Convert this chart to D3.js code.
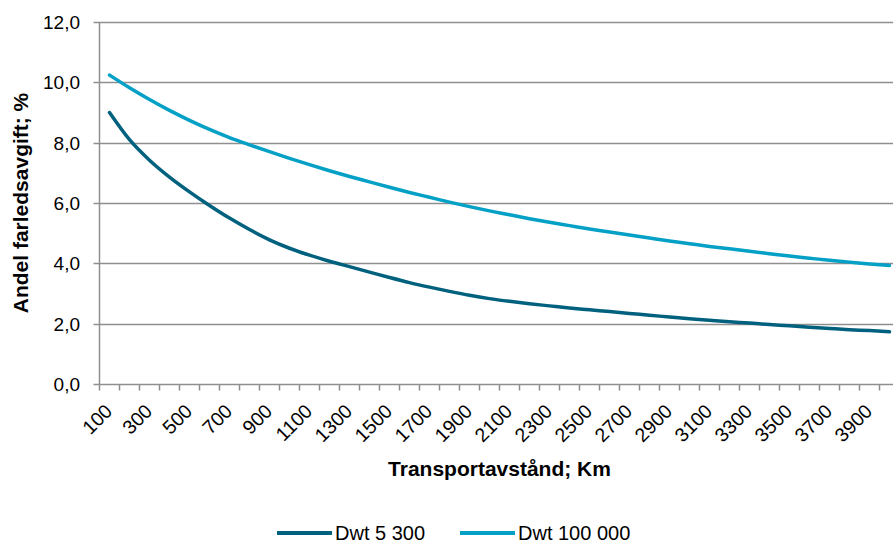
<!DOCTYPE html>
<html>
<head>
<meta charset="utf-8">
<script src="https://cdn.jsdelivr.net/npm/d3@7"></script>
<style>
  html, body { margin: 0; padding: 0; background: #fff; }
  svg { display: block; font-family: "Liberation Sans", Arial, sans-serif; }
</style>
</head>
<body>
<svg id="chart" width="893" height="543"></svg>
<script>
// Transport distance categories (km)
const distances = d3.range(100, 4001, 100);

// Share of fairway dues (%) per distance
const dwt5300 = [
  9.00, 8.10, 7.42, 6.86, 6.37, 5.92, 5.50, 5.12, 4.78, 4.50,
  4.27, 4.07, 3.89, 3.71, 3.53, 3.36, 3.21, 3.07, 2.94, 2.83,
  2.74, 2.66, 2.59, 2.52, 2.46, 2.40, 2.34, 2.28, 2.22, 2.16,
  2.11, 2.06, 2.02, 1.97, 1.93, 1.88, 1.84, 1.80, 1.77, 1.73
];
const dwt100000 = [
  10.24, 9.82, 9.43, 9.07, 8.74, 8.44, 8.17, 7.93, 7.70, 7.48,
  7.27, 7.07, 6.88, 6.70, 6.52, 6.35, 6.19, 6.03, 5.88, 5.74,
  5.61, 5.48, 5.36, 5.25, 5.14, 5.04, 4.94, 4.84, 4.74, 4.65,
  4.56, 4.48, 4.40, 4.32, 4.24, 4.17, 4.10, 4.04, 3.98, 3.93
];

const yTicks = [0, 2, 4, 6, 8, 10, 12];
const seriesNames = ["Dwt 5 300", "Dwt 100 000"];
const seriesColors = ["#00617e", "#04a0c6"];

const svg = d3.select("#chart");
const plot = { left: 99.5, top: 22, width: 800, height: 362 };

const x = d3.scaleBand()
  .domain(distances)
  .range([plot.left, plot.left + plot.width])
  .paddingInner(0).paddingOuter(0);
const y = d3.scaleLinear()
  .domain([0, 12])
  .range([plot.top + plot.height, plot.top]);

const fmt = v => d3.format(".1f")(v).replace(".", ",");
const gridColor = "#8f8f8f";

// Horizontal gridlines
svg.append("g").selectAll("line")
  .data(yTicks.filter(t => t > 0))
  .join("line")
  .attr("x1", plot.left).attr("x2", plot.left + plot.width)
  .attr("y1", d => Math.round(y(d)) + 0.5).attr("y2", d => Math.round(y(d)) + 0.5)
  .attr("stroke", gridColor).attr("stroke-width", 1.5);

// Y axis line, ticks and labels
const yAxis = svg.append("g");
yAxis.append("line")
  .attr("x1", plot.left).attr("x2", plot.left)
  .attr("y1", plot.top).attr("y2", plot.top + plot.height)
  .attr("stroke", gridColor).attr("stroke-width", 1.5);
yAxis.selectAll(".yt").data(yTicks).join("line")
  .attr("x1", plot.left - 6).attr("x2", plot.left)
  .attr("y1", d => Math.round(y(d)) + 0.5).attr("y2", d => Math.round(y(d)) + 0.5)
  .attr("stroke", gridColor).attr("stroke-width", 1.5);
yAxis.selectAll("text").data(yTicks).join("text")
  .attr("x", 80).attr("y", d => y(d))
  .attr("dy", "0.36em")
  .attr("text-anchor", "end")
  .attr("font-size", 19).attr("fill", "#000")
  .text(fmt);

// X axis line, tick marks between categories, rotated labels
const xAxis = svg.append("g");
const yBase = Math.round(y(0)) + 0.5;
xAxis.append("line")
  .attr("x1", plot.left).attr("x2", plot.left + plot.width)
  .attr("y1", yBase).attr("y2", yBase)
  .attr("stroke", gridColor).attr("stroke-width", 1.5);
xAxis.selectAll(".xt").data(distances.concat([null])).join("line")
  .attr("x1", (d, i) => plot.left + i * x.bandwidth())
  .attr("x2", (d, i) => plot.left + i * x.bandwidth())
  .attr("y1", yBase).attr("y2", yBase + 6)
  .attr("stroke", gridColor).attr("stroke-width", 1.5);
xAxis.selectAll("text")
  .data(distances.filter((d, i) => i % 2 === 0))
  .join("text")
  .attr("transform", d => `translate(${x(d) + x.bandwidth() / 2 + 4},${412.5}) rotate(-45)`)
  .attr("text-anchor", "end")
  .attr("font-size", 19.5).attr("fill", "#000")
  .text(d => d);

// Axis titles
svg.append("text")
  .attr("x", plot.left + plot.width / 2).attr("y", 476)
  .attr("text-anchor", "middle")
  .attr("font-size", 21).attr("font-weight", "bold")
  .text("Transportavstånd; Km");
svg.append("text")
  .attr("transform", `translate(28,${plot.top + plot.height / 2}) rotate(-90)`)
  .attr("text-anchor", "middle")
  .attr("font-size", 21).attr("font-weight", "bold")
  .text("Andel farledsavgift; %");

// Series lines
const line = d3.line()
  .x((d, i) => x(distances[i]) + x.bandwidth() / 2)
  .y(d => y(d))
  .curve(d3.curveMonotoneX);
[dwt5300, dwt100000].forEach((vals, k) => {
  svg.append("path")
    .datum(vals)
    .attr("d", line)
    .attr("fill", "none")
    .attr("stroke", seriesColors[k])
    .attr("stroke-width", 3.5)
    .attr("stroke-linejoin", "round")
    .attr("stroke-linecap", "round");
});

// Legend
const legendItems = [{ x: 277 }, { x: 460 }];
const lg = svg.append("g");
legendItems.forEach((it, k) => {
  lg.append("line")
    .attr("x1", it.x).attr("x2", it.x + 55)
    .attr("y1", 533).attr("y2", 533)
    .attr("stroke", seriesColors[k]).attr("stroke-width", 4);
  lg.append("text")
    .attr("x", it.x + 58).attr("y", 539.5)
    .attr("font-size", 20).attr("fill", "#000")
    .text(seriesNames[k]);
});
</script>
</body>
</html>
